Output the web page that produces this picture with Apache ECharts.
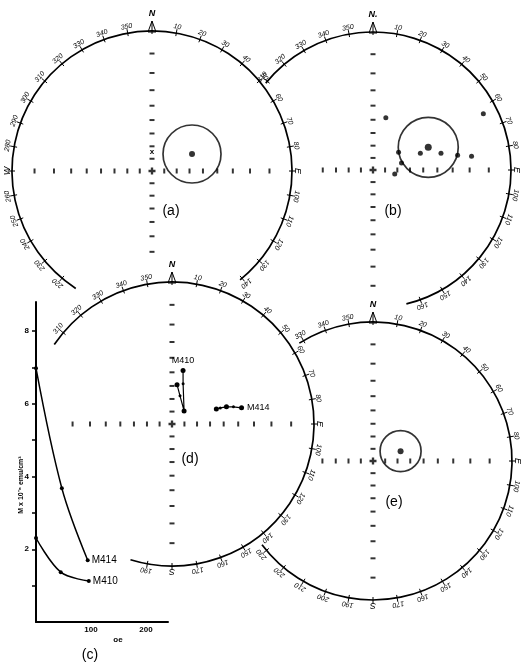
<!DOCTYPE html>
<html><head><meta charset="utf-8">
<script src="https://cdn.jsdelivr.net/npm/echarts@6/dist/echarts.min.js"></script>
<style>html,body{margin:0;padding:0;background:#fff}#c{width:521px;height:664px}</style>
</head><body><div id="c"></div>
<script>
// ---------- data ----------
const ringTicks = [0,10,20,30,40,50,60,70,80,90,100,110,120,130,140,150,160,170,180,190,200,210,220,230,240,250,260,270,280,290,300,310,320,330,340,350];
const crossIncl = [10,20,30,40,50,60,70,80];
const aSouthIncl = [30,40,50,60,70,80];
const bWestIncl = [50,60,70,80];
const dWestIncl = [20,30,40,50,60,70,80];
const eWestIncl = [50,60,70,80];

// (a) mean direction
const aDec = [67];
const aInc = [55.5];
// (b) individual directions and mean
const bDec = [13.8, 63, 55.3, 76.4, 100.3, 70.5, 76.2, 80.1, 82];
const bInc = [47.4, 6.2, 64.6, 66, 71.8, 50, 36.2, 26.2, 18.4];
const bMeanDec = [67.7];
const bMeanInc = [43.2];
// (d) demagnetization paths
const d410Dec = [7.3, 15.9, 42.7, 15.4, 11.7];
const d410Inc = [58.8, 66.7, 75.7, 57.2, 48];
const d414Dec = [71.2, 71.6, 72.5, 74.4, 76.9];
const d414Inc = [53.5, 50.6, 46.2, 41.6, 36.6];
// (e) mean direction
const eDec = [70.3];
const eInc = [66.2];
// (c) intensity vs field
const cField414 = [0, 47, 94];
const cM414 = [6.98, 3.68, 1.70];
const cField410 = [0, 45, 96];
const cM410 = [2.31, 1.37, 1.13];
const cYTicks = [1,2,3,4,5,6,7,8];
const cYLabels = [2,4,6,8];
const cXLabels = [100,200];

// ---------- layout / style ----------
const d410Sizes = [5,3,5,3,5];
const d414Sizes = [5,3,5,3,5];
const nets = [
  {center:[152,171], r:140, arc:[213,501], north:'N',  arms:[crossIncl, crossIncl, aSouthIncl, crossIncl]},
  {center:[373,170], r:138, arc:[309,526], north:'N.', arms:[crossIncl, crossIncl, crossIncl, bWestIncl]},
  {center:[172,424], r:142, arc:[304,557], north:'N',  arms:[crossIncl, crossIncl, crossIncl, dWestIncl]},
  {center:[373,461], r:139, arc:[328,593], north:'N',  arms:[crossIncl, crossIncl, crossIncl, eWestIncl]}
];
const FONT = 'Liberation Sans';

// stereographic (equal-angle) projection of inclination -> relative radius
function projR(inc){ return Math.tan((90 - inc) / 2 * Math.PI / 180); }
function inArc(ang, arc){ const d = ((ang - arc[0]) % 360 + 360) % 360; return d <= arc[1] - arc[0]; }
function pts(decs, incs){ return decs.map((d,i)=>[projR(incs[i]), d]); }

function ringRender(net){
  return function(params, api){
    const cs = params.coordSys, cx = cs.cx, cy = cs.cy, R = cs.r;
    const ang = api.value(1);
    const p = api.coord([1, ang]);
    const ux = (p[0]-cx)/R, uy = (p[1]-cy)/R, vx = -uy, vy = ux;
    const at = d => [cx + ux*(R+d), cy + uy*(R+d)];
    const ch = [];
    const rot = -ang*Math.PI/180;
    if (ang === 0){
      const t0 = at(-3), t1 = at(10), b = at(-1);
      ch.push({type:'line', shape:{x1:t0[0],y1:t0[1],x2:t1[0],y2:t1[1]}, style:{stroke:'#000', lineWidth:1}});
      ch.push({type:'polygon', shape:{points:[t1,[b[0]+vx*4,b[1]+vy*4],[b[0]-vx*4,b[1]-vy*4]]}, style:{fill:'none', stroke:'#000', lineWidth:1}});
      const np = at(17);
      ch.push({type:'text', x:np[0], y:np[1], style:{text:net.north, fontSize:9, fontStyle:'italic', fontWeight:'bold', fontFamily:FONT, fill:'#000', align:'center', verticalAlign:'middle'}});
    } else {
      const t0 = at(-3), t1 = at(4);
      ch.push({type:'line', shape:{x1:t0[0],y1:t0[1],x2:t1[0],y2:t1[1]}, style:{stroke:'#000', lineWidth:1}});
      const card = {90:'E',180:'S',270:'W'}[ang];
      const lp = at(card ? 5 : 6.5);
      ch.push({type:'text', x:lp[0], y:lp[1], rotation:rot, style:{text: card || String(ang), fontSize: card?9:7, fontStyle:'italic', fontFamily:FONT, fill:'#000', align:'center', verticalAlign:'middle'}});
    }
    return {type:'group', children:ch};
  };
}
function arcRender(net){
  return function(params){
    const cs = params.coordSys;
    return {type:'arc', shape:{cx:cs.cx, cy:cs.cy, r:cs.r, startAngle:(net.arc[0]-90)*Math.PI/180, endAngle:(net.arc[1]-90)*Math.PI/180, clockwise:true}, style:{stroke:'#000', lineWidth:1.7, fill:null}};
  };
}

const series = [];
nets.forEach((net, i) => {
  series.push({type:'custom', coordinateSystem:'polar', polarIndex:i, clip:false, silent:true, renderItem:arcRender(net), data:[[1, net.arc[0]]]});
  series.push({type:'custom', coordinateSystem:'polar', polarIndex:i, clip:false, silent:true, renderItem:ringRender(net),
    data: ringTicks.filter(a => inArc(a, net.arc)).map(a => [1, a])});
  const cross = [];
  [0,90,180,270].forEach((dir, k) => net.arms[k].forEach(inc => cross.push([projR(inc), dir])));
  series.push({type:'scatter', coordinateSystem:'polar', polarIndex:i, silent:true, symbol:'rect',
    symbolSize: v => (v[1] % 180 === 0) ? [5,2] : [2,5], itemStyle:{color:'#000'}, data:cross});
  series.push({type:'scatter', coordinateSystem:'polar', polarIndex:i, silent:true,
    symbol:'path://M2,0h2v2h2v2h-2v2h-2v-2h-2v-2h2z', symbolSize:7, itemStyle:{color:'#000'}, data:[[0,0]]});
});
const ring = () => ({color:'rgba(0,0,0,0)', borderColor:'#000', borderWidth:1.7});
// (a)
series.push({type:'scatter', coordinateSystem:'polar', polarIndex:0, symbolSize:58, itemStyle:ring(), data:pts(aDec,aInc)});
series.push({type:'scatter', coordinateSystem:'polar', polarIndex:0, symbolSize:6, itemStyle:{color:'#000'}, data:pts(aDec,aInc)});
// (b)
series.push({type:'scatter', coordinateSystem:'polar', polarIndex:1, symbolSize:60, itemStyle:ring(), data:pts(bMeanDec,bMeanInc)});
series.push({type:'scatter', coordinateSystem:'polar', polarIndex:1, symbolSize:7, itemStyle:{color:'#000'}, data:pts(bMeanDec,bMeanInc)});
series.push({type:'scatter', coordinateSystem:'polar', polarIndex:1, symbolSize:5, itemStyle:{color:'#000'}, data:pts(bDec,bInc)});
// (d)
const d410 = pts(d410Dec, d410Inc).map((v,i)=> i===4 ? {value:v, label:{show:true, position:'top', distance:3, formatter:'M410', fontSize:9, fontFamily:FONT, color:'#000'}} : v);
const d414 = pts(d414Dec, d414Inc).map((v,i)=> i===4 ? {value:v, label:{show:true, position:'right', distance:3, formatter:'M414', fontSize:9, fontFamily:FONT, color:'#000'}} : v);
series.push({type:'line', coordinateSystem:'polar', polarIndex:2, symbol:'circle', symbolSize:(v,p)=>d410Sizes[p.dataIndex], itemStyle:{color:'#000'}, lineStyle:{color:'#000', width:1.2}, data:d410});
series.push({type:'line', coordinateSystem:'polar', polarIndex:2, symbol:'circle', symbolSize:(v,p)=>d414Sizes[p.dataIndex], itemStyle:{color:'#000'}, lineStyle:{color:'#000', width:1.2}, data:d414});
// (e)
series.push({type:'scatter', coordinateSystem:'polar', polarIndex:3, symbolSize:41, itemStyle:ring(), data:pts(eDec,eInc)});
series.push({type:'scatter', coordinateSystem:'polar', polarIndex:3, symbolSize:6, itemStyle:{color:'#000'}, data:pts(eDec,eInc)});
// (c)
function curve(xs, ys, name){
  return {type:'line', xAxisIndex:0, yAxisIndex:0, smooth:0.35, symbol:'circle', symbolSize:4,
    itemStyle:{color:'#000'}, lineStyle:{color:'#000', width:1.5},
    data: xs.map((x,i)=> i===xs.length-1 ? {value:[x,ys[i]], label:{show:true, position:'right', distance:2, formatter:name, fontSize:10, fontFamily:FONT, color:'#000'}} : [x, ys[i]])};
}
series.push(curve(cField414, cM414, 'M414'));
series.push(curve(cField410, cM410, 'M410'));

const hidden = {axisLine:{show:false}, axisTick:{show:false}, axisLabel:{show:false}, splitLine:{show:false}};
const option = {
  backgroundColor:'#fff',
  animation:false,
  polar: nets.map(n => ({center:n.center, radius:n.r})),
  angleAxis: nets.map((n,i) => Object.assign({polarIndex:i, type:'value', min:0, max:360, startAngle:90, clockwise:true}, hidden)),
  radiusAxis: nets.map((n,i) => Object.assign({polarIndex:i, type:'value', min:0, max:1}, hidden)),
  grid:{left:36, top:302, width:132, height:320},
  xAxis:{type:'value', min:0, max:240, interval:100,
    axisLine:{lineStyle:{color:'#000', width:2}}, axisTick:{show:false}, splitLine:{show:false},
    axisLabel:{customValues:cXLabels, formatter:v => cXLabels.includes(v) ? String(v) : '', fontSize:8, fontWeight:'bold', fontFamily:FONT, color:'#000', margin:4}},
  yAxis:{type:'value', min:0, max:8.8, interval:1,
    axisLine:{lineStyle:{color:'#000', width:2}}, splitLine:{show:false},
    axisTick:{customValues:cYTicks, length:4, lineStyle:{color:'#000', width:1.5}},
    axisLabel:{customValues:cYLabels, formatter:v => cYLabels.includes(v) ? String(v) : '', fontSize:8, fontWeight:'bold', fontFamily:FONT, color:'#000', margin:7}},
  graphic:[
    {type:'text', x:171, y:211, style:{text:'(a)', fontSize:14, fontFamily:FONT, fill:'#000', align:'center', verticalAlign:'middle'}},
    {type:'text', x:393, y:211, style:{text:'(b)', fontSize:14, fontFamily:FONT, fill:'#000', align:'center', verticalAlign:'middle'}},
    {type:'text', x:190, y:459, style:{text:'(d)', fontSize:14, fontFamily:FONT, fill:'#000', align:'center', verticalAlign:'middle'}},
    {type:'text', x:394, y:502, style:{text:'(e)', fontSize:14, fontFamily:FONT, fill:'#000', align:'center', verticalAlign:'middle'}},
    {type:'text', x:90, y:655, style:{text:'(c)', fontSize:14, fontFamily:FONT, fill:'#000', align:'center', verticalAlign:'middle'}},
    {type:'text', x:118, y:640, style:{text:'oe', fontSize:8, fontWeight:'bold', fontFamily:FONT, fill:'#000', align:'center', verticalAlign:'middle'}},
    {type:'text', x:21, y:485, rotation:Math.PI/2, style:{text:'M x 10⁻⁶ emu/cm³', fontSize:7, fontWeight:'bold', fontFamily:FONT, fill:'#000', align:'center', verticalAlign:'middle'}},
    {type:'text', x:152, y:152, style:{text:'x', fontSize:8, fontWeight:'bold', fontFamily:FONT, fill:'#000', align:'center', verticalAlign:'middle'}}
  ],
  series: series
};
echarts.init(document.getElementById('c'), null, {renderer:'canvas'}).setOption(option);
</script>
</body></html>
